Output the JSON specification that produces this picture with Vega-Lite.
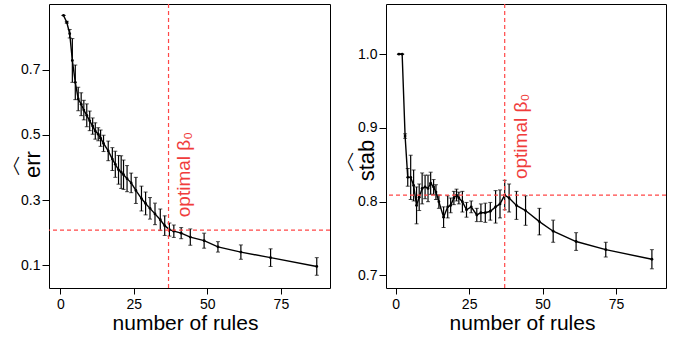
{
  "$schema": "https://vega.github.io/schema/vega-lite/v6.json",
  "padding": {"left": 0, "top": 2, "right": 5, "bottom": 5},
  "spacing": 2,
  "datasets": {
    "pts": [
      {"x": 1.1, "e": 0.866, "es": 0, "s": 1.0, "ss": 0},
      {"x": 2.2, "e": 0.845, "es": 0.003, "s": 1.0, "ss": 0},
      {"x": 3.2, "e": 0.81, "es": 0.013, "s": 0.889, "ss": 0.003},
      {"x": 4.1, "e": 0.728, "es": 0.067, "s": 0.833, "ss": 0.012},
      {"x": 5.1, "e": 0.661, "es": 0.053, "s": 0.833, "ss": 0.03},
      {"x": 6.1, "e": 0.61, "es": 0.036, "s": 0.822, "ss": 0.021},
      {"x": 7.1, "e": 0.594, "es": 0.035, "s": 0.795, "ss": 0.025},
      {"x": 8.0, "e": 0.576, "es": 0.03, "s": 0.806, "ss": 0.018},
      {"x": 9.0, "e": 0.56, "es": 0.035, "s": 0.818, "ss": 0.021},
      {"x": 10.0, "e": 0.543, "es": 0.03, "s": 0.82, "ss": 0.016},
      {"x": 11.0, "e": 0.527, "es": 0.025, "s": 0.818, "ss": 0.018},
      {"x": 11.9, "e": 0.512, "es": 0.025, "s": 0.825, "ss": 0.015},
      {"x": 12.9, "e": 0.502, "es": 0.02, "s": 0.82, "ss": 0.01},
      {"x": 13.7, "e": 0.49, "es": 0.025, "s": 0.813, "ss": 0.01},
      {"x": 14.7, "e": 0.474, "es": 0.025, "s": 0.8, "ss": 0.009},
      {"x": 16.3, "e": 0.451, "es": 0.03, "s": 0.779, "ss": 0.014},
      {"x": 17.7, "e": 0.426, "es": 0.035, "s": 0.793, "ss": 0.015},
      {"x": 18.7, "e": 0.41, "es": 0.04, "s": 0.795, "ss": 0.01},
      {"x": 19.8, "e": 0.393, "es": 0.044, "s": 0.805, "ss": 0.009},
      {"x": 20.7, "e": 0.386, "es": 0.05, "s": 0.809, "ss": 0.008},
      {"x": 21.5, "e": 0.378, "es": 0.045, "s": 0.805, "ss": 0.008},
      {"x": 22.7, "e": 0.366, "es": 0.04, "s": 0.8, "ss": 0.014},
      {"x": 24.1, "e": 0.353, "es": 0.03, "s": 0.789, "ss": 0.01},
      {"x": 25.7, "e": 0.33, "es": 0.04, "s": 0.793, "ss": 0.008},
      {"x": 27.6, "e": 0.305, "es": 0.038, "s": 0.782, "ss": 0.009},
      {"x": 29.0, "e": 0.29, "es": 0.035, "s": 0.785, "ss": 0.012},
      {"x": 30.5, "e": 0.275, "es": 0.033, "s": 0.785, "ss": 0.013},
      {"x": 32.2, "e": 0.258, "es": 0.033, "s": 0.787, "ss": 0.012},
      {"x": 34.0, "e": 0.24, "es": 0.033, "s": 0.793, "ss": 0.022},
      {"x": 35.5, "e": 0.222, "es": 0.03, "s": 0.797, "ss": 0.019},
      {"x": 37.1, "e": 0.21, "es": 0.02, "s": 0.809, "ss": 0.02},
      {"x": 38.6, "e": 0.205, "es": 0.019, "s": 0.805, "ss": 0.019},
      {"x": 41.1, "e": 0.199, "es": 0.017, "s": 0.795, "ss": 0.019},
      {"x": 44.2, "e": 0.187, "es": 0.025, "s": 0.788, "ss": 0.02},
      {"x": 48.9, "e": 0.176, "es": 0.023, "s": 0.773, "ss": 0.018},
      {"x": 53.6, "e": 0.157, "es": 0.016, "s": 0.76, "ss": 0.015},
      {"x": 61.4, "e": 0.141, "es": 0.022, "s": 0.746, "ss": 0.012},
      {"x": 71.5, "e": 0.124, "es": 0.027, "s": 0.735, "ss": 0.01},
      {"x": 87.2, "e": 0.097, "es": 0.027, "s": 0.722, "ss": 0.013}
    ],
    "refErr": [{"beta": 36.8, "level": 0.208}],
    "refStab": [{"beta": 37.1, "level": 0.809}]
  },
  "hconcat": [
    {
      "width": 281,
      "height": 284,
      "layer": [
        {
          "data": {"name": "pts"},
          "mark": {"type": "errorbar", "color": "black", "thickness": 1.2, "ticks": {"size": 4, "thickness": 1, "color": "black"}},
          "encoding": {
            "x": {"field": "x", "type": "quantitative", "scale": {"domain": [-3.84, 91.7], "nice": false, "zero": false}, "axis": {"values": [0, 25, 50, 75], "title": "number of rules", "titleX": 136, "titleY": 41}},
            "y": {"field": "e", "type": "quantitative", "scale": {"domain": [0.031, 0.901], "nice": false, "zero": false}, "axis": {"values": [0.1, 0.3, 0.5, 0.7], "format": ".1f", "title": ["︿", "err"], "titleX": -30, "titleY": 160}},
            "yError": {"field": "es"}
          }
        },
        {
          "data": {"name": "pts"},
          "mark": {"type": "line", "color": "black", "strokeWidth": 1.4},
          "encoding": {
            "x": {"field": "x", "type": "quantitative"},
            "y": {"field": "e", "type": "quantitative"}
          }
        },
        {
          "data": {"name": "pts"},
          "mark": {"type": "point", "filled": true, "color": "black", "size": 8, "opacity": 1},
          "encoding": {
            "x": {"field": "x", "type": "quantitative"},
            "y": {"field": "e", "type": "quantitative"}
          }
        },
        {
          "data": {"name": "refErr"},
          "mark": {"type": "rule", "color": "#ff4747", "strokeDash": [4, 3], "strokeWidth": 1.2},
          "encoding": {"x": {"field": "beta", "type": "quantitative"}}
        },
        {
          "data": {"name": "refErr"},
          "mark": {"type": "rule", "color": "#ff4747", "strokeDash": [4, 3], "strokeWidth": 1.2},
          "encoding": {"y": {"field": "level", "type": "quantitative"}}
        },
        {
          "data": {"name": "refErr"},
          "mark": {"type": "text", "text": "optimal β₀", "angle": 270, "align": "left", "baseline": "top", "dx": 13, "dy": 6, "fontSize": 19, "color": "#f03c3c"},
          "encoding": {
            "x": {"field": "beta", "type": "quantitative"},
            "y": {"field": "level", "type": "quantitative"}
          }
        }
      ]
    },
    {
      "width": 280,
      "height": 284,
      "layer": [
        {
          "data": {"name": "pts"},
          "mark": {"type": "errorbar", "color": "black", "thickness": 1.2, "ticks": {"size": 4, "thickness": 1, "color": "black"}},
          "encoding": {
            "x": {"field": "x", "type": "quantitative", "scale": {"domain": [-3.3, 92.0], "nice": false, "zero": false}, "axis": {"values": [0, 25, 50, 75], "title": "number of rules", "titleX": 136, "titleY": 41}},
            "y": {"field": "s", "type": "quantitative", "scale": {"domain": [0.683, 1.068], "nice": false, "zero": false}, "axis": {"values": [0.7, 0.8, 0.9, 1.0], "format": ".1f", "title": ["︿", "stab"], "titleX": -33, "titleY": 156}},
            "yError": {"field": "ss"}
          }
        },
        {
          "data": {"name": "pts"},
          "mark": {"type": "line", "color": "black", "strokeWidth": 1.4},
          "encoding": {
            "x": {"field": "x", "type": "quantitative"},
            "y": {"field": "s", "type": "quantitative"}
          }
        },
        {
          "data": {"name": "pts"},
          "mark": {"type": "point", "filled": true, "color": "black", "size": 8, "opacity": 1},
          "encoding": {
            "x": {"field": "x", "type": "quantitative"},
            "y": {"field": "s", "type": "quantitative"}
          }
        },
        {
          "data": {"name": "refStab"},
          "mark": {"type": "rule", "color": "#ff4747", "strokeDash": [4, 3], "strokeWidth": 1.2},
          "encoding": {"x": {"field": "beta", "type": "quantitative"}}
        },
        {
          "data": {"name": "refStab"},
          "mark": {"type": "rule", "color": "#ff4747", "strokeDash": [4, 3], "strokeWidth": 1.2},
          "encoding": {"y": {"field": "level", "type": "quantitative"}}
        },
        {
          "data": {"name": "refStab"},
          "mark": {"type": "text", "text": "optimal β₀", "angle": 270, "align": "left", "baseline": "top", "dx": 16, "dy": 7, "fontSize": 19, "color": "#f03c3c"},
          "encoding": {
            "x": {"field": "beta", "type": "quantitative"},
            "y": {"field": "level", "type": "quantitative"}
          }
        }
      ]
    }
  ],
  "config": {
    "font": "Liberation Sans",
    "view": {"stroke": "black", "strokeWidth": 1},
    "axis": {
      "domain": false,
      "grid": false,
      "tickColor": "black",
      "labelFontSize": 14,
      "labelColor": "black",
      "labelFont": "Liberation Sans",
      "titleFont": "Liberation Sans",
      "titleFontSize": 21,
      "titleFontWeight": "normal",
      "titleColor": "black"
    },
    "axisY": {"tickSize": 7, "labelPadding": 2, "titleFontSize": 22, "titleAlign": "center", "titleBaseline": "alphabetic", "titleLineHeight": 20},
    "axisX": {"tickSize": 6, "labelPadding": 3, "titleAlign": "center", "titleBaseline": "alphabetic"}
  }
}
